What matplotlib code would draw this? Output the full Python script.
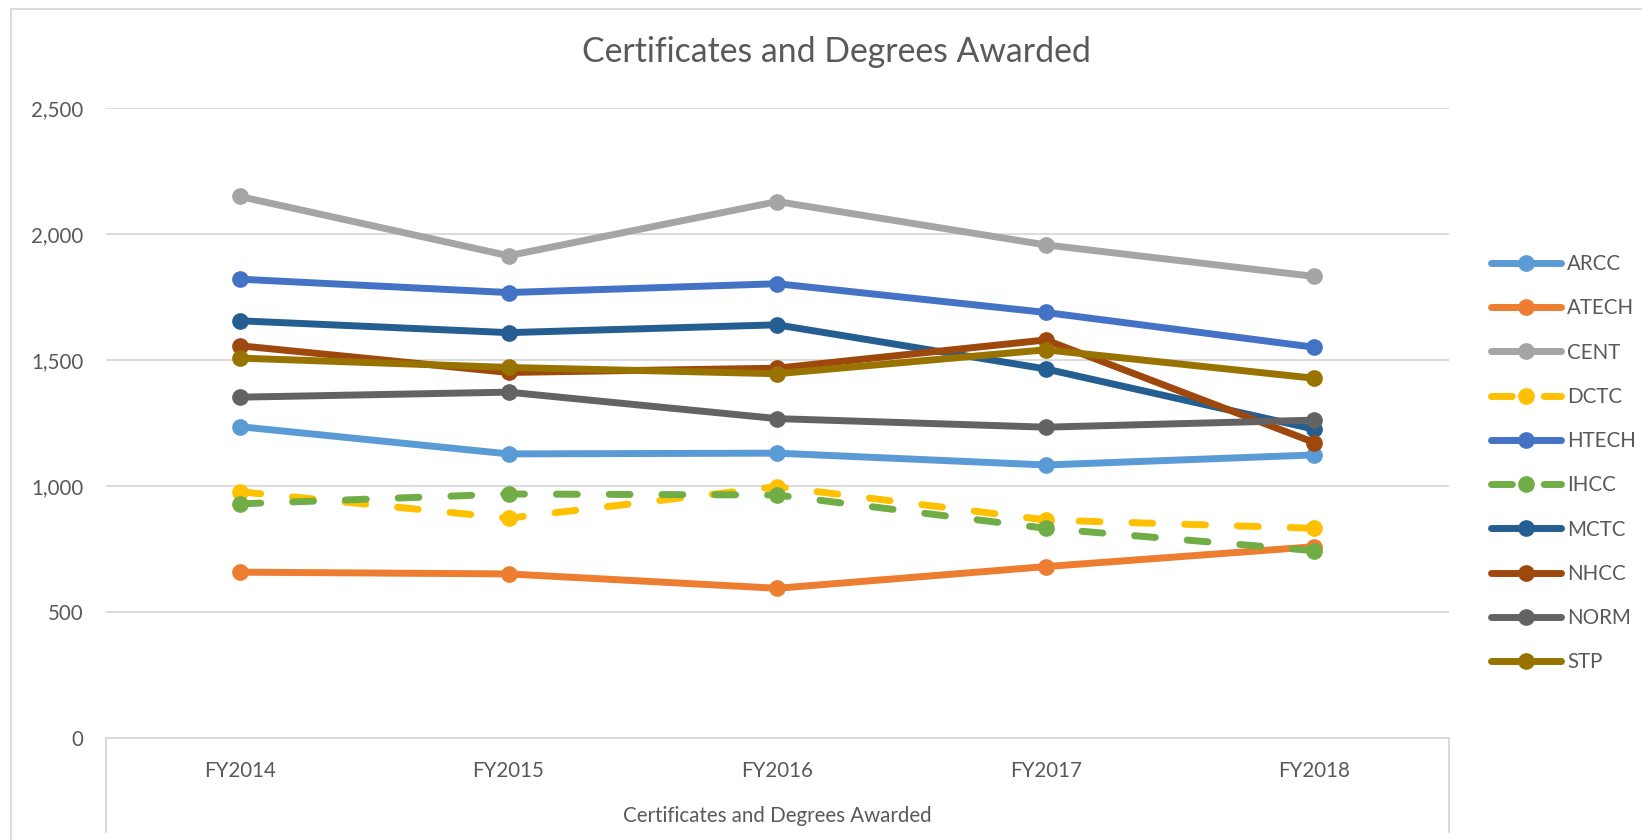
import matplotlib
matplotlib.use("Agg")
import matplotlib.pyplot as plt
from matplotlib.lines import Line2D

plt.rcParams['font.family'] = ['Lato', 'DejaVu Sans']

years = ["FY2014", "FY2015", "FY2016", "FY2017", "FY2018"]
series_names = ["ARCC", "ATECH", "CENT", "DCTC", "HTECH", "IHCC", "MCTC", "NHCC", "NORM", "STP"]
arcc = [1236, 1128, 1131, 1084, 1124]
atech = [659, 652, 595, 681, 760]
cent = [2149, 1914, 2129, 1957, 1832]
dctc = [978, 873, 998, 866, 833]
htech = [1821, 1768, 1803, 1689, 1551]
ihcc = [930, 969, 965, 833, 744]
mctc = [1656, 1609, 1640, 1465, 1226]
nhcc = [1557, 1451, 1468, 1580, 1173]
norm = [1353, 1373, 1268, 1234, 1262]
stp = [1508, 1471, 1446, 1541, 1428]
values = [arcc, atech, cent, dctc, htech, ihcc, mctc, nhcc, norm, stp]
colors = ["#5B9BD5", "#ED7D31", "#A5A5A5", "#FFC000", "#4472C4",
          "#70AD47", "#255E91", "#9E480E", "#636363", "#997300"]
dashed = {"DCTC", "IHCC"}

W, H = 1642, 840
fig = plt.figure(figsize=(W / 100, H / 100), dpi=100)
left, right, bottom, top = 105.6, 1448.7, 738.3, 108.0
ax = fig.add_axes([left / W, 1 - bottom / H, (right - left) / W, (bottom - top) / H])

x = list(range(len(years)))
handles = []
for name, vals, c in zip(series_names, values, colors):
    kw = dict(color=c, lw=5, marker='o', markersize=11, markerfacecolor=c,
              markeredgecolor=c, solid_capstyle='round', dash_capstyle='round', label=name)
    if name in dashed:
        kw['linestyle'] = (0, (3.0, 4.6))
    ln, = ax.plot(x, vals, **kw)
    handles.append(ln)

ax.set_xlim(-0.5, len(years) - 0.5)
ax.set_ylim(0, 2500)
ax.set_yticks([0, 500, 1000, 1500, 2000, 2500])
ax.set_yticklabels(["0", "500", "1,000", "1,500", "2,000", "2,500"])
ax.set_xticks(x)
ax.set_xticklabels(years)
ax.tick_params(axis='both', length=0, labelsize=14.8, labelcolor='#595959')
ax.tick_params(axis='y', pad=16)
ax.tick_params(axis='x', pad=16)
ax.grid(axis='y', color='#D9D9D9', lw=1.3)
ax.set_axisbelow(True)
for s in ['top', 'right', 'left']:
    ax.spines[s].set_visible(False)
ax.spines['bottom'].set_color('#D9D9D9')
ax.spines['bottom'].set_linewidth(1.3)

# category-group box below axis
for xp in (left, right):
    fig.add_artist(Line2D([xp / W, xp / W], [1 - bottom / H, 1 - 832 / H],
                          color='#D9D9D9', lw=1.3))
fig.text((left + right) / 2 / W, 1 - 816 / H, "Certificates and Degrees Awarded",
         ha='center', va='center', fontsize=14.8, color='#595959')

# outer chart border
fig.add_artist(Line2D([10.5 / W, 1.0], [1 - 9 / H, 1 - 9 / H], color='#D9D9D9', lw=1.3))
fig.add_artist(Line2D([10.5 / W, 10.5 / W], [1 - 9 / H, 0.0], color='#D9D9D9', lw=1.3))

fig.text(836 / W, 1 - 52 / H, "Certificates and Degrees Awarded",
         ha='center', va='center', fontsize=24.3, color='#595959')

leg = fig.legend(handles=handles, loc='upper left',
                 bbox_to_anchor=(1491 / W, 1 - 254 / H), frameon=False,
                 fontsize=14.8, handlelength=3.4, handletextpad=0.3,
                 labelspacing=1.18, borderpad=0, borderaxespad=0)
for t in leg.get_texts():
    t.set_color('#595959')

fig.savefig("out.png", dpi=100)
